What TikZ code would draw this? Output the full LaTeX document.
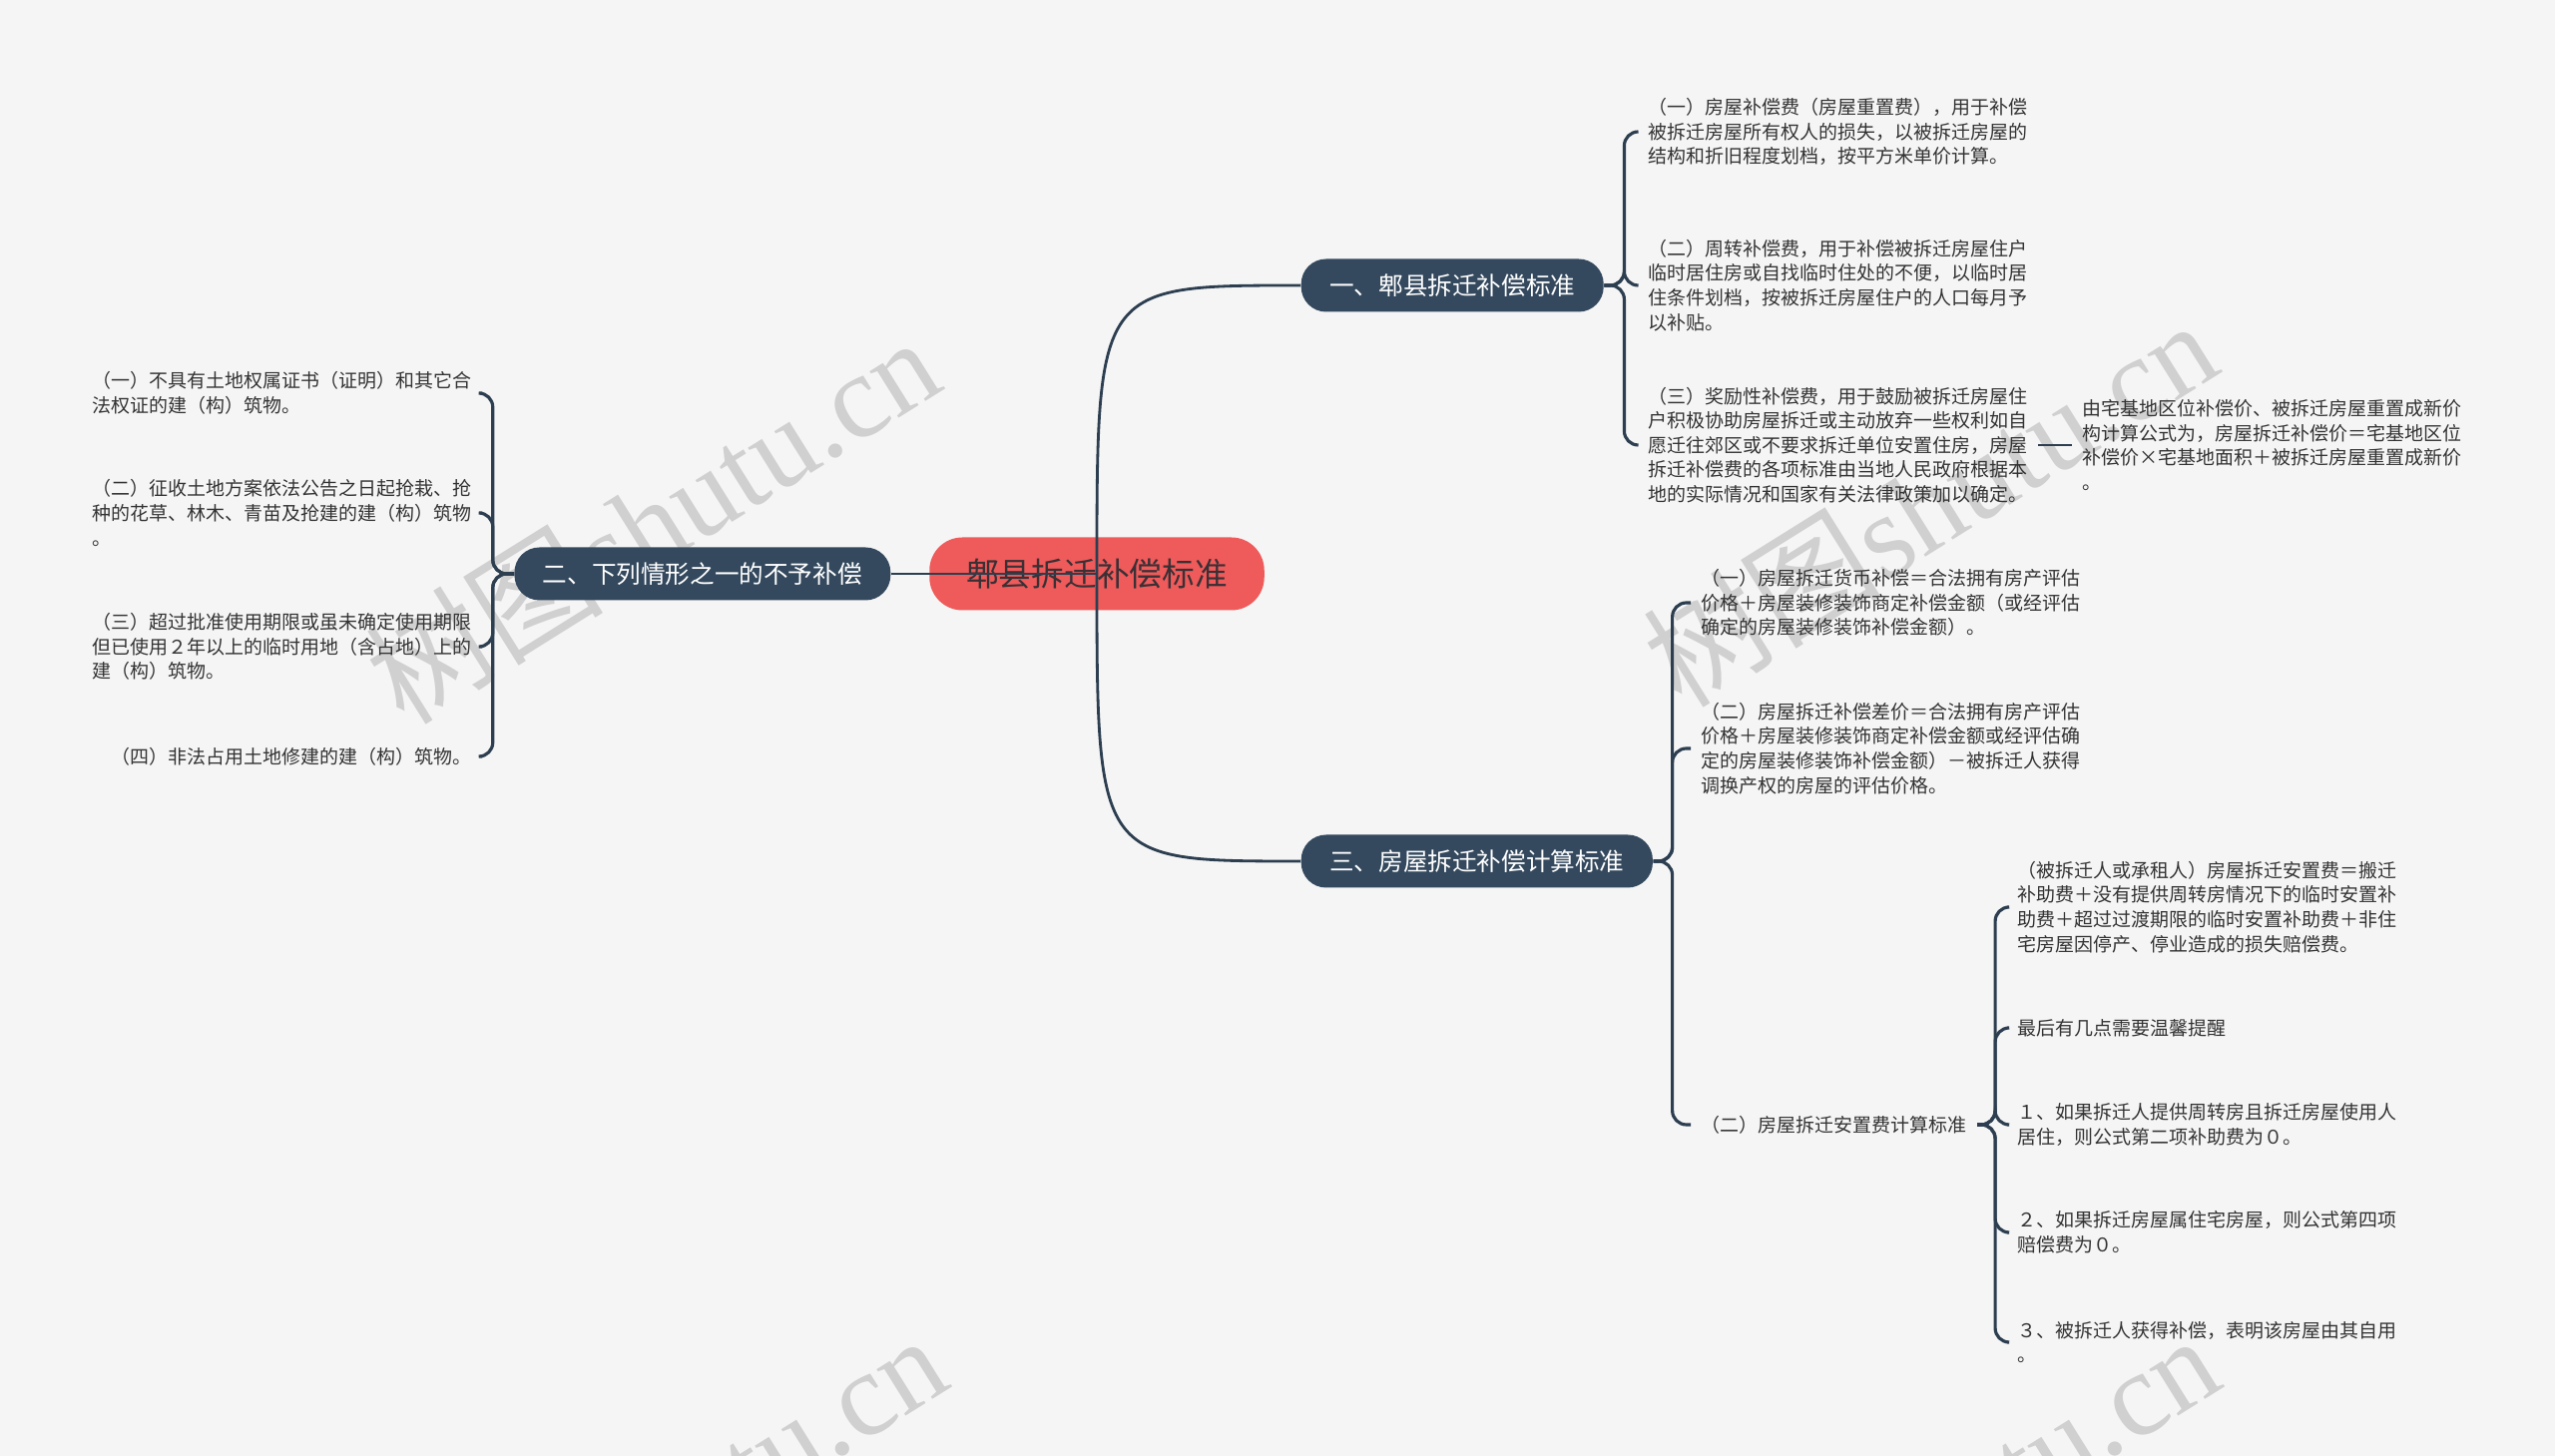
\documentclass[tikz,border=0pt]{standalone}
\usepackage{fontspec}
\setmainfont{Noto Sans CJK SC}
\newfontfamily\wmfont{Liberation Serif}
\usetikzlibrary{positioning, calc}

\definecolor{bgc}{HTML}{F5F5F5}
\definecolor{navy}{HTML}{34495E}
\definecolor{linec}{HTML}{2C3E50}
\definecolor{rootred}{HTML}{EF5A5A}
\definecolor{roottext}{HTML}{3A3035}
\definecolor{leaftext}{HTML}{333333}
\definecolor{wmgray}{HTML}{D0D0D0}

\begin{document}
\begin{tikzpicture}[node distance=0.34cm,
    central/.style={fill=rootred, text=roottext, rounded corners=0.33cm, minimum height=0.73cm, inner xsep=0.37cm, inner ysep=0pt, font=\fontsize{9.3}{11}\selectfont},
    topic/.style={fill=navy, text=white, rounded corners=0.25cm, minimum height=0.53cm, inner xsep=0.285cm, inner ysep=0pt, font=\fontsize{7}{8}\selectfont},
    leaf/.style={text=leaftext, align=left, inner xsep=0.1cm, inner ysep=0.02cm, font=\fontsize{5.4}{7}\selectfont},
    link/.style={draw=linec, line width=0.8pt},
    brace/.style={draw=linec, line width=0.9pt, rounded corners=0.14cm},
    watermark/.style={text=wmgray, rotate=32, font=\fontsize{34}{34}\selectfont}]
    \fill[bgc] (0,0) rectangle (25.6,-14.59);
    \useasboundingbox (0,0) rectangle (25.6,-14.59);
    \begin{scope}
        \clip (0,0) rectangle (25.6,-14.59);
        \foreach \x/\y in {6.53/-5.2, 19.33/-5.03, 6.6/-15.2, 19.35/-15.2}
            \node[watermark] at (\x,\y) {树图{\wmfont shutu.cn}};
    \end{scope}

    \node[central] (R) at (10.99,-5.75) {郫县拆迁补偿标准};
    \node[topic, anchor=west] (A) at (13.03,-2.86) {一、郫县拆迁补偿标准};
    \node[topic, anchor=east] (B) at (8.93,-5.75) {二、下列情形之一的不予补偿};
    \node[topic, anchor=west] (C) at (13.03,-8.63) {三、房屋拆迁补偿计算标准};

    \node[leaf, anchor=west] (A1) at (16.41,-1.32) {（一）房屋补偿费（房屋重置费），用于补偿\\被拆迁房屋所有权人的损失，以被拆迁房屋的\\结构和折旧程度划档，按平方米单价计算。};
    \node[leaf, anchor=west] (A2) at (16.41,-2.86) {（二）周转补偿费，用于补偿被拆迁房屋住户\\临时居住房或自找临时住处的不便，以临时居\\住条件划档，按被拆迁房屋住户的人口每月予\\以补贴。};
    \node[leaf, anchor=west] (A3) at (16.41,-4.46) {（三）奖励性补偿费，用于鼓励被拆迁房屋住\\户积极协助房屋拆迁或主动放弃一些权利如自\\愿迁往郊区或不要求拆迁单位安置住房，房屋\\拆迁补偿费的各项标准由当地人民政府根据本\\地的实际情况和国家有关法律政策加以确定。};
    \node[leaf] (A31) [right=of A3] {由宅基地区位补偿价、被拆迁房屋重置成新价\\构计算公式为，房屋拆迁补偿价＝宅基地区位\\补偿价×宅基地面积＋被拆迁房屋重置成新价\\。};

    \node[leaf, anchor=east] (B1) at (4.83,-3.94) {（一）不具有土地权属证书（证明）和其它合\\法权证的建（构）筑物。};
    \node[leaf, anchor=east] (B2) at (4.83,-5.14) {（二）征收土地方案依法公告之日起抢栽、抢\\种的花草、林木、青苗及抢建的建（构）筑物\\。};
    \node[leaf, anchor=east] (B3) at (4.83,-6.48) {（三）超过批准使用期限或虽未确定使用期限\\但已使用２年以上的临时用地（含占地）上的\\建（构）筑物。};
    \node[leaf, anchor=east] (B4) at (4.83,-7.58) {（四）非法占用土地修建的建（构）筑物。};

    \node[leaf, anchor=west] (C1) at (16.94,-6.04) {（一）房屋拆迁货币补偿＝合法拥有房产评估\\价格＋房屋装修装饰商定补偿金额（或经评估\\确定的房屋装修装饰补偿金额）。};
    \node[leaf, anchor=west] (C2) at (16.94,-7.50) {（二）房屋拆迁补偿差价＝合法拥有房产评估\\价格＋房屋装修装饰商定补偿金额或经评估确\\定的房屋装修装饰补偿金额）－被拆迁人获得\\调换产权的房屋的评估价格。};
    \node[leaf, anchor=west] (C3) at (16.94,-11.27) {（二）房屋拆迁安置费计算标准};

    \node[leaf, anchor=west] (C31) at (20.11,-9.09) {（被拆迁人或承租人）房屋拆迁安置费＝搬迁\\补助费＋没有提供周转房情况下的临时安置补\\助费＋超过过渡期限的临时安置补助费＋非住\\宅房屋因停产、停业造成的损失赔偿费。};
    \node[leaf, anchor=west] (C32) at (20.11,-10.30) {最后有几点需要温馨提醒};
    \node[leaf, anchor=west] (C33) at (20.11,-11.27) {１、如果拆迁人提供周转房且拆迁房屋使用人\\居住，则公式第二项补助费为０。};
    \node[leaf, anchor=west] (C34) at (20.11,-12.35) {２、如果拆迁房屋属住宅房屋，则公式第四项\\赔偿费为０。};
    \node[leaf, anchor=west] (C35) at (20.11,-13.45) {３、被拆迁人获得补偿，表明该房屋由其自用\\。};

    \draw[link] (R.center) .. controls (R.center |- A.west) .. (A.west);
    \draw[link] (R.center) .. controls (R.center |- C.west) .. (C.west);
    \draw[link] (R.center) -- (B.east);

    \foreach \n in {A1,A2,A3}
        \draw[brace] (A.east) -- ++(0.2,0) |- (\n.west);
    \draw[link] (A3.east) -- (A31.west);
    \foreach \n in {B1,B2,B3,B4}
        \draw[brace] (B.west) -- ++(-0.21,0) |- (\n.east);
    \foreach \n in {C1,C2,C3}
        \draw[brace] (C.east) -- ++(0.19,0) |- (\n.west);
    \foreach \n in {C31,C32,C33,C34,C35}
        \draw[brace] (C3.east) -- ++(0.18,0) |- (\n.west);
\end{tikzpicture}
\end{document}
